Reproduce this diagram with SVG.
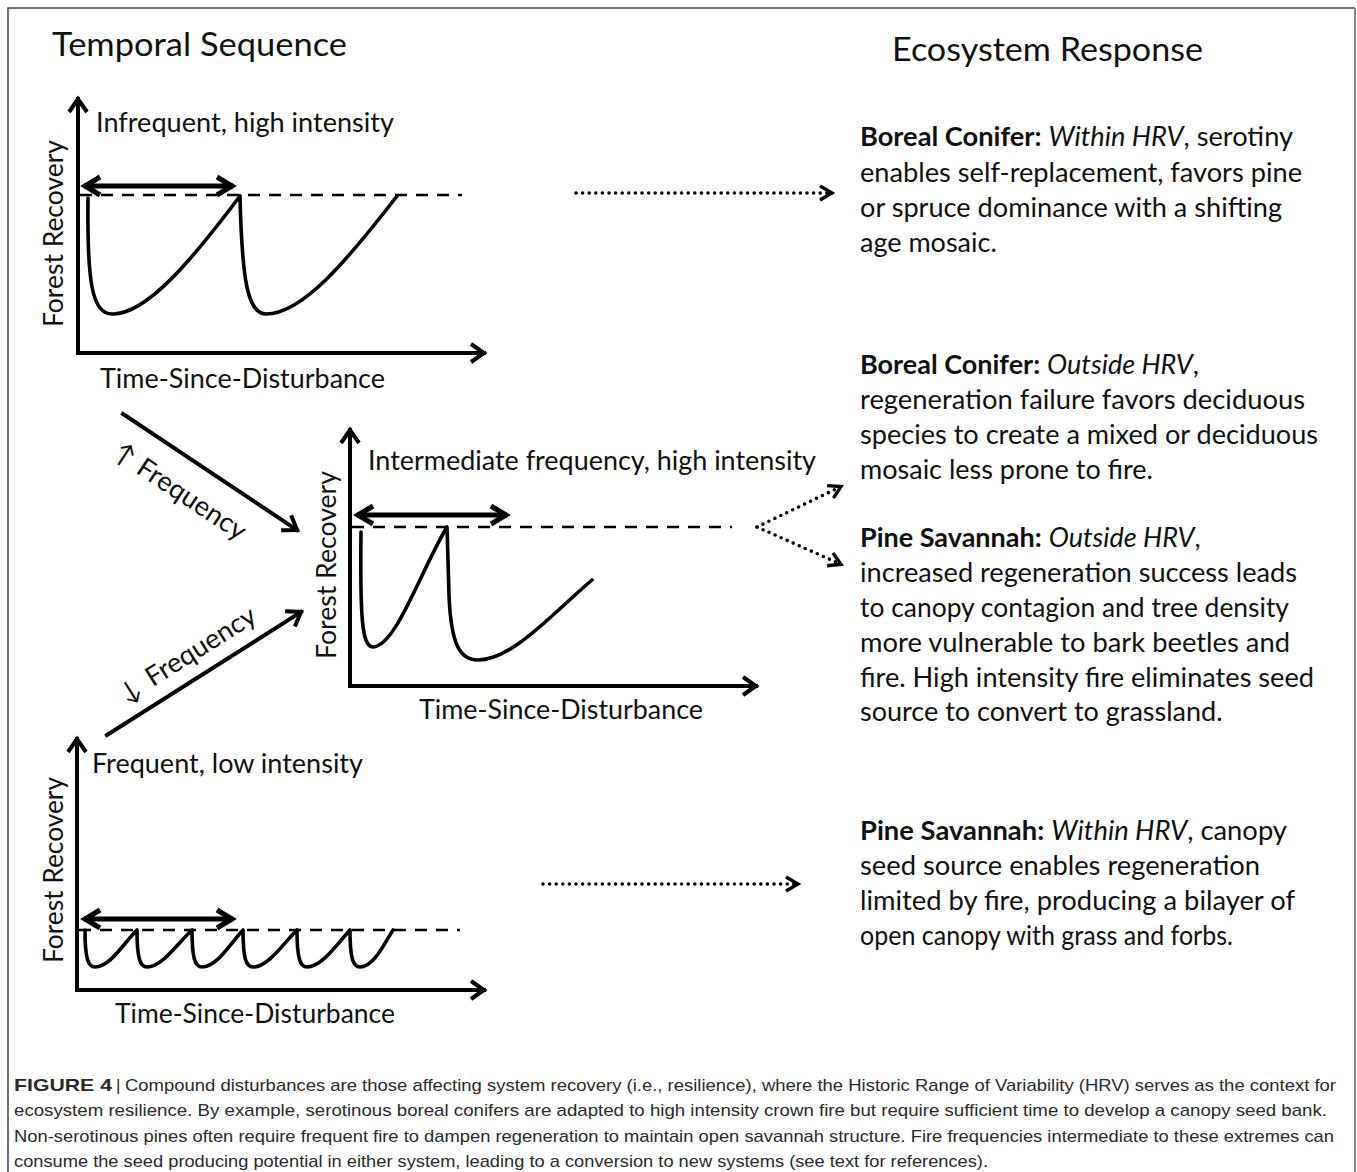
<svg xmlns="http://www.w3.org/2000/svg" width="1357" height="1172" viewBox="0 0 1357 1172">
  <style>
    .t { font-family: Lato, "Open Sans", "DejaVu Sans", sans-serif; fill: #111; }
    .title { font-size: 33px; }
    .lab { font-size: 27px; }
    .body { font-size: 27px; }
    .b { font-weight: bold; }
    .i { font-style: italic; }
    .cap { font-family: "Liberation Sans", Arial, sans-serif; font-size: 17px; fill: #2a2a2a; }
    .axis { fill: none; stroke: #000; stroke-width: 4; stroke-linecap: square; }
    .curve { fill: none; stroke: #000; stroke-width: 3.6; stroke-linecap: round; stroke-linejoin: round; }
    .dash { fill: none; stroke: #000; stroke-width: 2.4; stroke-dasharray: 12 9; }
    .dbl { fill: none; stroke: #000; stroke-width: 5; }
    .dots { fill: none; stroke: #000; stroke-width: 3.6; stroke-linecap: round; stroke-dasharray: 0 6.6; }
    .frame { fill: none; stroke: #444; stroke-width: 1.5; }
  </style>
  <defs>
    <marker id="ax" markerUnits="userSpaceOnUse" viewBox="-20 -15 24 30" refX="0" refY="0" markerWidth="24" markerHeight="30" orient="auto" overflow="visible">
      <path d="M-13,-9 L0,0 L-13,9" fill="none" stroke="#000" stroke-width="4" stroke-linejoin="miter"/>
    </marker>
    <marker id="dh" markerUnits="userSpaceOnUse" viewBox="-22 -15 26 30" refX="0" refY="0" markerWidth="26" markerHeight="30" orient="auto-start-reverse" overflow="visible">
      <path d="M-16,-9 L-1,0 L-16,9" fill="none" stroke="#000" stroke-width="5" stroke-linejoin="miter"/>
    </marker>
    <marker id="dt" markerUnits="userSpaceOnUse" viewBox="-18 -12 22 24" refX="0" refY="0" markerWidth="22" markerHeight="24" orient="auto" overflow="visible">
      <path d="M-12,-7 L0,0 L-12,7" fill="none" stroke="#000" stroke-width="3.4" stroke-linejoin="miter"/>
    </marker>
  </defs>

  <rect width="1357" height="1172" fill="#fff"/>
  <!-- panel frame (open at the bottom) -->
  <path class="frame" d="M8,1172 L8,8 L1355,8"/>
  <path d="M1355,8 L1355,1172" fill="none" stroke="#888" stroke-width="2"/>

  <!-- column headings -->
  <text class="t title" x="52" y="56" textLength="295" lengthAdjust="spacingAndGlyphs">Temporal Sequence</text>
  <text class="t title" x="892" y="61" textLength="311" lengthAdjust="spacingAndGlyphs">Ecosystem Response</text>

  <!-- chart: infrequent, high intensity -->
  <g id="chart-infrequent">
    <path class="axis" d="M78,353 L78,99" marker-end="url(#ax)"/>
    <path class="axis" d="M78,353 L484,353" marker-end="url(#ax)"/>
    <path class="dash" d="M80,195 L462,195"/>
    <path class="dbl" d="M84,186 L233,186" marker-start="url(#dh)" marker-end="url(#dh)"/>
    <path class="curve" d="M88,198 C87,282 92,314 112,314 C146,315 192,260 240,196 C242,282 248,314 266,314 C302,314 346,262 397,196"/>
    <text class="t lab" x="96" y="132" textLength="298" lengthAdjust="spacingAndGlyphs">Infrequent, high intensity</text>
    <text class="t lab" x="100" y="388" textLength="285" lengthAdjust="spacingAndGlyphs">Time-Since-Disturbance</text>
    <text class="t lab" transform="translate(63,327) rotate(-90)" textLength="187" lengthAdjust="spacingAndGlyphs">Forest Recovery</text>
  </g>

  <!-- chart: intermediate frequency, high intensity -->
  <g id="chart-intermediate">
    <path class="axis" d="M350,686 L350,430" marker-end="url(#ax)"/>
    <path class="axis" d="M350,686 L756,686" marker-end="url(#ax)"/>
    <path class="dash" d="M352,527 L732,527"/>
    <path class="dbl" d="M357,515 L507,515" marker-start="url(#dh)" marker-end="url(#dh)"/>
    <path class="curve" d="M361,532 C360,618 362,647 373,647 C396,646 420,572 447,527 L449,595 C451,645 460,660 478,660 C512,660 552,614 592,580"/>
    <text class="t lab" x="368" y="470" textLength="448" lengthAdjust="spacingAndGlyphs">Intermediate frequency, high intensity</text>
    <text class="t lab" x="419" y="719" textLength="284" lengthAdjust="spacingAndGlyphs">Time-Since-Disturbance</text>
    <text class="t lab" transform="translate(336,659) rotate(-90)" textLength="188" lengthAdjust="spacingAndGlyphs">Forest Recovery</text>
  </g>

  <!-- chart: frequent, low intensity -->
  <g id="chart-frequent">
    <path class="axis" d="M77,990 L77,739" marker-end="url(#ax)"/>
    <path class="axis" d="M77,990 L484,990" marker-end="url(#ax)"/>
    <path class="dash" d="M79,930 L460,930"/>
    <path class="dbl" d="M84,919 L233,919" marker-start="url(#dh)" marker-end="url(#dh)"/>
    <path class="curve" d="M85,930 C85,958 88,967 95,967 C110,967 123,944 137,930 C137,958 140,967 147,967 C162,967 177,944 192,930 C192,958 195,967 202,967 C217,967 230,944 243,930 C243,958 246,967 253,967 C268,967 283,944 297,930 C297,958 300,967 307,967 C322,967 337,944 350,930 C350,958 353,967 360,967 C374,967 385,942 393,930"/>
    <text class="t lab" x="92" y="773" textLength="271" lengthAdjust="spacingAndGlyphs">Frequent, low intensity</text>
    <text class="t lab" x="115" y="1023" textLength="280" lengthAdjust="spacingAndGlyphs">Time-Since-Disturbance</text>
    <text class="t lab" transform="translate(63,963) rotate(-90)" textLength="186" lengthAdjust="spacingAndGlyphs">Forest Recovery</text>
  </g>

  <!-- ecosystem responses -->
  <g id="resp-boreal-within">
    <text class="t body" x="860" y="146" textLength="433" lengthAdjust="spacingAndGlyphs"><tspan class="b">Boreal Conifer:</tspan> <tspan class="i">Within HRV</tspan>, serotiny</text>
    <text class="t body" x="860" y="182" textLength="442" lengthAdjust="spacingAndGlyphs">enables self-replacement, favors pine</text>
    <text class="t body" x="860" y="217" textLength="422" lengthAdjust="spacingAndGlyphs">or spruce dominance with a shifting</text>
    <text class="t body" x="860" y="252">age mosaic.</text>
  </g>
  <g id="resp-boreal-outside">
    <text class="t body" x="860" y="374"><tspan class="b">Boreal Conifer:</tspan> <tspan class="i">Outside HRV</tspan>,</text>
    <text class="t body" x="860" y="409" textLength="445" lengthAdjust="spacingAndGlyphs">regeneration failure favors deciduous</text>
    <text class="t body" x="860" y="444" textLength="458" lengthAdjust="spacingAndGlyphs">species to create a mixed or deciduous</text>
    <text class="t body" x="860" y="479">mosaic less prone to fire.</text>
  </g>
  <g id="resp-pine-outside">
    <text class="t body" x="860" y="547"><tspan class="b">Pine Savannah:</tspan> <tspan class="i">Outside HRV</tspan>,</text>
    <text class="t body" x="860" y="582" textLength="437" lengthAdjust="spacingAndGlyphs">increased regeneration success leads</text>
    <text class="t body" x="860" y="617" textLength="429" lengthAdjust="spacingAndGlyphs">to canopy contagion and tree density</text>
    <text class="t body" x="860" y="652" textLength="430" lengthAdjust="spacingAndGlyphs">more vulnerable to bark beetles and</text>
    <text class="t body" x="860" y="687" textLength="454" lengthAdjust="spacingAndGlyphs">fire. High intensity fire eliminates seed</text>
    <text class="t body" x="860" y="721">source to convert to grassland.</text>
  </g>
  <g id="resp-pine-within">
    <text class="t body" x="860" y="840" textLength="427" lengthAdjust="spacingAndGlyphs"><tspan class="b">Pine Savannah:</tspan> <tspan class="i">Within HRV</tspan>, canopy</text>
    <text class="t body" x="860" y="875" textLength="400" lengthAdjust="spacingAndGlyphs">seed source enables regeneration</text>
    <text class="t body" x="860" y="910" textLength="435" lengthAdjust="spacingAndGlyphs">limited by fire, producing a bilayer of</text>
    <text class="t body" x="860" y="945" textLength="373" lengthAdjust="spacingAndGlyphs">open canopy with grass and forbs.</text>
  </g>

  <!-- connectors -->
  <g id="connectors">
    <path class="axis" d="M123,414 L297,530" marker-end="url(#ax)"/>
    <path class="axis" d="M107,735 L301,612" marker-end="url(#ax)"/>
    <path class="dots" d="M576,193 L830,193"/>
    <path d="M831,193 L832,193" marker-end="url(#dt)" stroke="none" fill="none"/>
    <path class="dots" d="M543,884 L796,884"/>
    <path d="M797,884 L798,884" marker-end="url(#dt)" stroke="none" fill="none"/>
    <path class="dots" d="M757,527 L838,488"/>
    <path d="M839,487.5 L841,486.5" marker-end="url(#dt)" stroke="none" fill="none"/>
    <path class="dots" d="M757,527 L838,563"/>
    <path d="M839,563.4 L841,564.3" marker-end="url(#dt)" stroke="none" fill="none"/>
  </g>

  <!-- frequency labels along the transition arrows -->
  <g id="label-freq-up" transform="translate(123,414) rotate(33.5)">
    <text class="t lab" x="14" y="42">↑<tspan x="42" textLength="125" lengthAdjust="spacingAndGlyphs">Frequency</tspan></text>
  </g>
  <g id="label-freq-down" transform="translate(107,735) rotate(-32.2)">
    <text class="t lab" x="33" y="-16">↓<tspan x="64" textLength="125" lengthAdjust="spacingAndGlyphs">Frequency</tspan></text>
  </g>

  <!-- caption -->
  <g id="caption">
    <text class="cap" x="14" y="1091" font-weight="bold" fill="#111" textLength="98" lengthAdjust="spacingAndGlyphs">FIGURE 4</text>
    <text class="cap" x="116" y="1091">|</text>
    <text class="cap" x="125" y="1091" textLength="1211" lengthAdjust="spacingAndGlyphs">Compound disturbances are those affecting system recovery (i.e., resilience), where the Historic Range of Variability (HRV) serves as the context for</text>
    <text class="cap" x="14" y="1116" textLength="1313" lengthAdjust="spacingAndGlyphs">ecosystem resilience. By example, serotinous boreal conifers are adapted to high intensity crown fire but require sufficient time to develop a canopy seed bank.</text>
    <text class="cap" x="14" y="1142" textLength="1320" lengthAdjust="spacingAndGlyphs">Non-serotinous pines often require frequent fire to dampen regeneration to maintain open savannah structure. Fire frequencies intermediate to these extremes can</text>
    <text class="cap" x="14" y="1167" textLength="974" lengthAdjust="spacingAndGlyphs">consume the seed producing potential in either system, leading to a conversion to new systems (see text for references).</text>
  </g>
</svg>
